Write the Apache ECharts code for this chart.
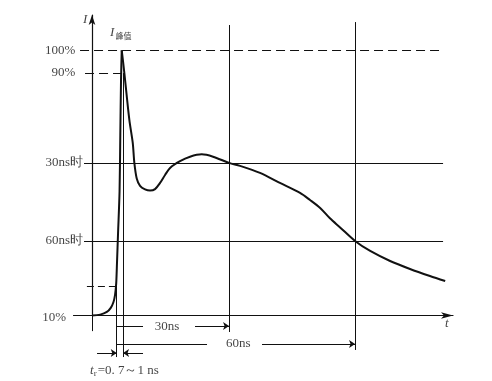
<!DOCTYPE html>
<html><head><meta charset="utf-8">
<script src="https://cdn.jsdelivr.net/npm/echarts@6/dist/echarts.min.js"></script>
<style>html,body{margin:0;padding:0;background:#fff}#c{width:492px;height:381px}</style>
</head><body><div id="c"></div>
<script>
// ---- data (time in ns from the 10% point, current in % of peak) ----
// rising part up to the peak
const riseTime  = [-6, -3.9, -2.2, -1.2, -0.5, -0.1, 0.2, 0.4, 0.67, 1.05, 1.25, 1.43, 1.61];
const riseLevel = [10, 10.3, 11.2, 12.6, 14.6, 17.0, 21, 28, 38, 52, 72, 90, 100];
// falling part from the peak
const fallTime  = [1.61, 2.28, 3.56, 4.43, 4.84, 5.45, 6.3, 7.58, 8.86, 10.14, 11.42, 12.7, 13.98,
                   16.53, 19.09, 22.09, 24.98, 29.08, 31.9, 37.0, 42.1, 47.25, 49.8, 52.4,
                   54.9, 57.5, 61.33, 65.2, 70.3, 75.4, 80.5, 84.4];
const fallLevel = [100, 92.3, 76.4, 68.6, 61.8, 56.5, 54.0, 52.8, 52.4, 52.9, 55.0, 57.7, 60.1,
                   62.4, 63.9, 64.7, 63.9, 61.8, 60.8, 58.4, 55.0, 51.6, 49.2, 46.5,
                   43.0, 39.9, 35.3, 31.9, 28.5, 25.8, 23.4, 21.7];
const levelLabels = ['100%', '90%', '30ns时', '60ns时', '10%'];
const levelValues = [100, 92.3, 61.8, 35.3, 10];
const levelLabelT = [-10.26, -10.26, -8.3, -8.3, -12.64];
const marker10 = 20;             // small dashed level near the foot
const t30 = 29.08, t60 = 61.33;  // 30 ns / 60 ns verticals
const tR0 = 0.33, tR1 = 1.95;    // rise-time markers
const dim30Label = '30ns', dim60Label = '60ns';

const tMin = -6, tMax = 86.4, vMin = 10, vMax = 112;
const FONT = 'Liberation Serif';
const ink = '#111';

const plain = [
  {coords: [[-10.85, vMin], [tMin, vMin]]},
  {coords: [[tMin, vMin], [tMin, 4.7]]},
  {coords: [[-9.06, levelValues[0]], [83.86, levelValues[0]]], lineStyle: {type: [9, 5]}},
  {coords: [[-7.78, levelValues[1]], [1.43, levelValues[1]]], lineStyle: {type: [9, 5]}},
  {coords: [[-8.04, levelValues[2]], [83.86, levelValues[2]]]},
  {coords: [[-8.04, levelValues[3]], [83.86, levelValues[3]]]},
  {coords: [[-7.3, marker10], [-0.1, marker10]], lineStyle: {type: [7, 4]}},
  {coords: [[t30, 108.6], [t30, 4.4]]},
  {coords: [[t60, 109.6], [t60, -1.7]]},
  {coords: [[tR0, 24], [tR0, -4.1]]},
  {coords: [[tR1, levelValues[1]], [tR1, -4.1]]},
  {coords: [[tR0, 6.4], [7.06, 6.4]]},
  {coords: [[tR0, 0.3], [23.44, 0.3]]}
];
const arrows = [
  {coords: [[20.37, 6.4], [t30, 6.4]]},
  {coords: [[37.52, 0.3], [t60, 0.3]]},
  {coords: [[-4.71, -2.7], [tR0, -2.7]]},
  {coords: [[7.06, -2.7], [tR1, -2.7]]}
];

const texts = [];
levelLabels.forEach((s, i) => texts.push({
  value: [levelLabelT[i], i === 4 ? 9.3 : levelValues[i]],
  label: {formatter: s, position: 'left', distance: 0}
}));
texts.push({value: [-7.78, 110.3], label: {formatter: '{i|I}', position: 'inside'}});
texts.push({value: [84.8, 7.3], label: {formatter: '{i|t}', position: 'inside'}});
texts.push({value: [-1.38, 105.9], label: {formatter: '{i|I}{s|峰值}', position: 'right', distance: 0}});
texts.push({value: [13.2, 6.4], label: {formatter: dim30Label, position: 'inside'}});
texts.push({value: [31.45, 0.3], label: {formatter: dim60Label, position: 'inside'}});
texts.push({value: [-6.5, -8.8], label: {formatter: '{i|t}{r|r}=0. 7～1 ns', position: 'right', distance: 0}});

const chart = echarts.init(document.getElementById('c'), null, {renderer: 'canvas'});
const curveStyle = {type: 'line', clip: false, symbol: 'none', silent: true,
  smooth: 0.3, lineStyle: {color: ink, width: 2}};
chart.setOption({
  backgroundColor: '#fff',
  animation: false,
  grid: {left: 92, right: 39, top: 15, bottom: 65.5},
  xAxis: {
    type: 'value', min: tMin, max: tMax,
    axisLine: {show: true, onZero: false, symbol: ['none', 'arrow'], symbolSize: [5, 12],
               lineStyle: {color: ink, width: 1.2}},
    axisTick: {show: false}, axisLabel: {show: false}, splitLine: {show: false}
  },
  yAxis: {
    type: 'value', min: vMin, max: vMax,
    axisLine: {show: true, onZero: false, symbol: ['none', 'arrow'], symbolSize: [5, 10],
               lineStyle: {color: ink, width: 1.2}},
    axisTick: {show: false}, axisLabel: {show: false}, splitLine: {show: false}
  },
  series: [
    {
      type: 'lines', coordinateSystem: 'cartesian2d', clip: false, silent: true,
      lineStyle: {color: ink, width: 1, opacity: 1}, data: plain
    },
    {
      type: 'lines', coordinateSystem: 'cartesian2d', clip: false, silent: true,
      symbol: ['none', 'arrow'], symbolSize: 6,
      lineStyle: {color: ink, width: 1, opacity: 1}, data: arrows
    },
    Object.assign({}, curveStyle, {data: riseTime.map((t, i) => [t, riseLevel[i]])}),
    Object.assign({}, curveStyle, {data: fallTime.map((t, i) => [t, fallLevel[i]])}),
    {
      type: 'scatter', clip: false, symbolSize: 0, silent: true,
      label: {show: true, color: ink, fontFamily: FONT, fontSize: 13,
        rich: {
          i: {fontFamily: FONT, fontStyle: 'italic', fontSize: 13, color: ink},
          s: {fontFamily: 'Noto Sans CJK SC', fontSize: 8, color: ink, verticalAlign: 'bottom', padding: [6, 0, 0, 1]},
          r: {fontFamily: FONT, fontSize: 9, color: ink, padding: [5, 1, 0, 0]}
        }},
      data: texts
    }
  ]
});
</script></body></html>
